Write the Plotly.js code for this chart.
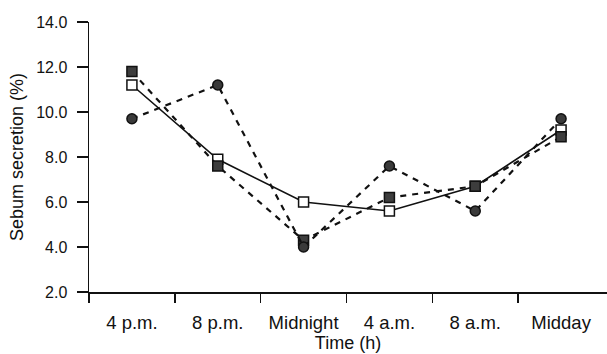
<!DOCTYPE html>
<html>
<head>
<meta charset="utf-8">
<script src="https://cdn.plot.ly/plotly-3.0.1.min.js"></script>
<style>
html,body{margin:0;padding:0;background:#fff;}
#chart{width:607px;height:354px;}
</style>
</head>
<body>
<div id="chart"></div>
<script>
var times = ["4 p.m.", "8 p.m.", "Midnight", "4 a.m.", "8 a.m.", "Midday"];
var openSquares = [11.2, 7.9, 6.0, 5.6, 6.7, 9.2];
var filledSquares = [11.8, 7.6, 4.3, 6.2, 6.7, 8.9];
var filledCircles = [9.7, 11.2, 4.0, 7.6, 5.6, 9.7];
var yTicks = [2, 4, 6, 8, 10, 12, 14];
var boundaryTicks = [-0.5, 0.5, 1.5, 2.5, 3.5, 4.5];
var boundaryText = ["", "", "", "", "", ""];

var font = "Liberation Sans, Arial, Helvetica, sans-serif";
var xRange = [-0.5, 5.535];

var traces = [
  {
    x: times, y: openSquares, type: "scatter", mode: "lines+markers",
    line: {color: "#111", width: 1.6},
    marker: {symbol: "square", size: 10, color: "#fff", line: {color: "#111", width: 1.5}},
    showlegend: false
  },
  {
    x: times, y: filledSquares, type: "scatter", mode: "lines+markers",
    line: {color: "#111", width: 2.2, dash: "6px,6px"},
    marker: {symbol: "square", size: 10, color: "#3d3d3d", line: {color: "#111", width: 1.5}},
    showlegend: false
  },
  {
    x: times, y: filledCircles, type: "scatter", mode: "lines+markers",
    xaxis: "x2",
    line: {color: "#111", width: 2.2, dash: "6px,6px"},
    marker: {symbol: "circle", size: 10, color: "#3a3a3a", line: {color: "#111", width: 1.5}},
    showlegend: false
  }
];

var layout = {
  width: 607, height: 354,
  margin: {l: 89, r: 0, t: 22, b: 62},
  paper_bgcolor: "#fff", plot_bgcolor: "#fff",
  font: {family: font, color: "#111"},
  xaxis: {
    type: "category",
    categoryarray: times,
    range: xRange,
    ticks: "",
    showline: true, linewidth: 1.5, linecolor: "#111",
    showgrid: false, zeroline: false,
    tickfont: {size: 18.5, family: font, color: "#111"},
    ticklabelstandoff: 13,
    title: {text: "Time (h)", font: {size: 18, family: font, color: "#111"}, standoff: 4}
  },
  xaxis2: {
    type: "category",
    categoryarray: times,
    overlaying: "x",
    anchor: "y",
    side: "bottom",
    range: xRange,
    tickmode: "array",
    tickvals: boundaryTicks,
    ticktext: boundaryText,
    showticklabels: false,
    ticks: "outside", ticklen: 10, tickwidth: 1.5, tickcolor: "#111",
    showline: false, showgrid: false, zeroline: false
  },
  yaxis: {
    range: [2, 14],
    tickvals: yTicks,
    tickformat: ".1f",
    ticks: "outside", ticklen: 11, tickwidth: 1.5, tickcolor: "#111",
    showline: true, linewidth: 1.5, linecolor: "#111",
    showgrid: false, zeroline: false,
    tickfont: {size: 16, family: font, color: "#111"},
    ticklabelstandoff: 6,
    title: {text: "Sebum secretion (%)", font: {size: 18, family: font, color: "#111"}, standoff: 8}
  }
};

Plotly.newPlot("chart", traces, layout, {displayModeBar: false, staticPlot: true});
</script>
</body>
</html>
